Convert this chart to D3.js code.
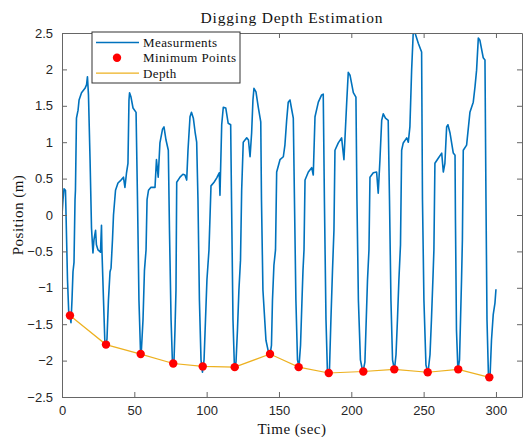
<!DOCTYPE html>
<html lang="en">
<head>
<meta charset="UTF-8">
<title>Digging Depth Estimation</title>
<script src="https://d3js.org/d3.v7.min.js"></script>
<style>
body { margin: 0; background: #fff; }
.tick text { font-family: "Liberation Sans", Arial, sans-serif; font-size: 13px; fill: #262626; }
.serif { font-family: "Liberation Serif", "Times New Roman", serif; fill: #111; }
</style>
</head>
<body>
<svg width="523" height="437"></svg>
<script>

var measT = [0, 0.7, 1.4, 2.4, 2.8, 3.8, 4.8, 5.5, 6.2, 6.9, 7.6, 8.3, 9.0, 9.3, 10.0, 11.1, 11.8, 13.5, 15.9, 17.0, 17.6, 18.3, 19.4, 20.4, 21.4, 22.1, 23.2, 23.8, 24.9, 26.6, 27.3, 27.6, 28.7, 29.7, 30.4,
  31.1, 32.1, 33.2, 33.9, 34.9, 35.6, 37.0, 38.7, 40.8, 42.5, 43.5, 44.6, 45.6, 46.3, 46.7, 47.7, 49.1, 51.2, 52.2, 53.2, 54.3, 54.9,
  56.0, 57.0, 58.1, 58.8, 59.8, 61.5, 64.3, 65.3, 66.5, 67.7, 69.5, 70.5, 71.9, 73.5, 74.3, 75.4, 76.4, 77.4,
  78.1, 78.8, 79.3, 81.6, 83.6, 85.0, 86.2, 87.1, 88.5, 89.5, 90.8, 92.0, 93.1, 94.0, 95.0, 96.1, 97.1, 98.2,
  99.2, 100.2, 101.6, 103.0, 105.1, 107.0, 108.7, 109.2, 110.4, 111.5, 113.2, 114.9, 116.6, 117.2, 118.2, 119.2, 120.3,
  121.3, 122.3, 123.4, 124.2, 125.3, 127.7, 128.9, 130.0, 131.1, 132.0, 132.7, 134.1, 135.7, 137.4, 137.9, 138.9, 141.0, 142.7, 143.8, 144.8,
  145.5, 146.5, 147.6, 148.4, 150.7, 153.0, 154.1, 155.3, 156.4, 157.6, 158.6, 159.9, 160.7, 161.7, 162.8, 163.8, 164.9,
  165.9, 166.6, 167.3, 168.0, 170.3, 172.6, 173.7, 174.9, 177.2, 179.5, 180.6, 181.4, 182.5, 183.5, 184.9,
  185.9, 187.0, 188.0, 188.7, 191.0, 193.3, 194.9, 196.8, 197.9, 199.1, 201.4, 203.2, 203.9, 204.9, 206.3, 208.0, 209.4,
  210.1, 211.2, 212.2, 212.9, 215.2, 217.5, 218.6, 219.8, 221.0, 222.1, 223.6, 225.5, 226.4, 227.4, 228.5, 229.8, 230.9,
  231.9, 232.9, 234.0, 234.8, 235.9, 238.3, 239.4, 240.5, 241.7, 242.8, 243.9, 246.3, 248.6, 249.2, 250.2, 251.6, 253.0, 254.4,
  255.4, 256.4, 257.1, 257.8, 260.1, 262.5, 263.6, 264.7, 265.9, 266.8, 268.2, 270.5, 271.7, 272.0, 272.7, 273.7, 274.8,
  275.5, 276.2, 276.8, 277.4, 279.7, 282.0, 284.3, 285.5, 286.6, 287.8, 288.9, 291.2, 292.4, 293.1, 293.8, 294.8, 295.8, 296.9, 298.1, 299.3, 300.0];

var measY = [0, 0.21, 0.36, 0.34, 0, -0.89, -1.41, -1.39, -1.48, -1.17, -0.78, -0.65, 0.21, 0.34, 1.33, 1.44, 1.58, 1.68, 1.74, 1.79, 1.90, 1.65, 0.76, -0.18, -0.52, -0.34, -0.21, -0.41, -0.48, -0.51, -0.14, -0.48, -1.17, -1.79, -1.79,
  -1.70, -1.17, -0.78, -0.73, -0.34, 0, 0.34, 0.44, 0.48, 0.52, 0.38, 0.58, 0.71, 1.58, 1.68, 1.62, 1.47, 1.41, 0.21, -1.17, -1.90, -1.85,
  -1.44, -0.76, -0.48, 0.21, 0.34, 0.38, 0.38, 0.76, 0.52, 0.99, 1.18, 1.21, 1.03, 0.89, -0.21, -1.44, -2.06, -2.02,
  -1.58, -1.03, 0.45, 0.52, 0.56, 0.55, 0.48, 0.89, 1.35, 1.41, 1.33, 1.14, 1.00, 0.21, -1.17, -1.99, -2.16, -1.99,
  -1.44, -0.89, -0.48, 0.40, 0.45, 0.51, 0.58, 0.27, 1.24, 1.48, 1.47, 1.26, 1.24, 0.21, -1.44, -2.09, -2.02,
  -1.58, -1.03, -0.62, 0.34, 1.00, 1.06, 1.03, 0.80, 1.13, 1.58, 1.74, 1.69, 1.48, 1.28, 0.21, -1.03, -1.72, -1.88, -1.92, -1.79,
  -1.17, -0.69, -0.48, 0.59, 0.76, 0.80, 0.96, 1.30, 1.55, 1.58, 1.47, 1.33, 0.21, -1.17, -1.99, -2.09, -1.79,
  -1.17, -0.76, -0.48, 0.48, 0.59, 0.65, 0.55, 1.35, 1.55, 1.65, 1.66, 0.21, -1.44, -2.16, -2.13,
  -1.44, -0.76, -0.21, 0.89, 0.99, 1.06, 0.76, 1.54, 1.96, 1.92, 1.68, 1.62, 0.21, -1.17, -1.99, -2.16, -2.02,
  -1.58, -0.89, -0.48, 0.52, 0.58, 0.59, 0.30, 0.76, 1.30, 1.39, 1.33, 1.30, 0.21, -1.17, -1.99, -2.13, -1.92,
  -1.44, -0.89, -0.41, 0.89, 0.99, 1.06, 1.00, 1.21, 1.99, 2.50, 2.51, 2.36, 2.24, 0.21, -1.17, -2.06, -2.17, -1.92,
  -1.44, -0.89, -0.48, 0.71, 0.78, 0.85, 0.59, 0.71, 1.21, 1.24, 1.13, 0.85, 0.82, -0.07, -1.58, -2.13, -1.99,
  -1.44, -0.89, -0.34, 0.89, 0.96, 1.41, 1.55, 1.76, 1.99, 2.43, 2.40, 2.16, 2.13, 0.21, -1.44, -2.20, -2.27, -1.72, -1.37, -1.21, -1.02];

// detected minimum points (also the depth line)
var minT = [5.5, 30.4, 54.4, 76.9, 97.3, 119.4, 143.8, 163.6, 184.4, 208.3, 229.7, 252.8, 273.9, 295.4];
var minY = [-1.38, -1.78, -1.91, -2.04, -2.08, -2.09, -1.91, -2.09, -2.17, -2.15, -2.12, -2.16, -2.12, -2.23];

var xTicks = [0, 50, 100, 150, 200, 250, 300];
var yTicks = [-2.5, -2, -1.5, -1, -0.5, 0, 0.5, 1, 1.5, 2, 2.5];

var svg = d3.select("svg");
var plot = {left: 62, right: 522, top: 33, bottom: 397};

var x = d3.scaleLinear().domain([0, 318]).range([plot.left, plot.right]);
var y = d3.scaleLinear().domain([-2.5, 2.5]).range([plot.bottom, plot.top]);

var meas = measT.map(function(t, i) { return [t, measY[i]]; });
var mins = minT.map(function(t, i) { return [t, minY[i]]; });

svg.append("clipPath").attr("id", "clip")
  .append("rect")
  .attr("x", plot.left).attr("y", plot.top)
  .attr("width", plot.right - plot.left).attr("height", plot.bottom - plot.top);

var line = d3.line().x(function(d) { return x(d[0]); }).y(function(d) { return y(d[1]); });

svg.append("path")
  .datum(meas)
  .attr("clip-path", "url(#clip)")
  .attr("d", line)
  .attr("fill", "none")
  .attr("stroke", "#0072BD")
  .attr("stroke-width", 1.6)
  .attr("stroke-linejoin", "round");

svg.append("path")
  .datum(mins)
  .attr("d", line)
  .attr("fill", "none")
  .attr("stroke", "#EDB120")
  .attr("stroke-width", 1.2);

svg.selectAll(".minpt")
  .data(mins)
  .enter()
  .append("circle")
  .attr("class", "minpt")
  .attr("cx", function(d) { return x(d[0]); })
  .attr("cy", function(d) { return y(d[1]); })
  .attr("r", 4.2)
  .attr("fill", "#FF0000");

// axes, box on, ticks inside
var axisColor = "#666";
function styleAxis(g) {
  g.select(".domain").attr("stroke", axisColor);
  g.selectAll(".tick line").attr("stroke", axisColor);
}

svg.append("g")
  .attr("transform", "translate(0," + plot.bottom + ")")
  .call(d3.axisBottom(x).tickValues(xTicks).tickSizeInner(-5).tickSizeOuter(0).tickPadding(9))
  .call(styleAxis);

svg.append("g")
  .attr("transform", "translate(0," + plot.top + ")")
  .call(d3.axisTop(x).tickValues(xTicks).tickSizeInner(-5).tickSizeOuter(0).tickFormat(""))
  .call(styleAxis);

svg.append("g")
  .attr("transform", "translate(" + plot.left + ",0)")
  .call(d3.axisLeft(y).tickValues(yTicks).tickSizeInner(-5).tickSizeOuter(0).tickPadding(9).tickFormat(d3.format("")))
  .call(styleAxis);

svg.append("g")
  .attr("transform", "translate(" + plot.right + ",0)")
  .call(d3.axisRight(y).tickValues(yTicks).tickSizeInner(-5).tickSizeOuter(0).tickFormat(""))
  .call(styleAxis);

// titles
svg.append("text").attr("class", "serif")
  .attr("x", (plot.left + plot.right) / 2).attr("y", 23)
  .attr("text-anchor", "middle").attr("font-size", 15.5)
  .attr("letter-spacing", 0.8)
  .text("Digging Depth Estimation");

svg.append("text").attr("class", "serif")
  .attr("x", (plot.left + plot.right) / 2).attr("y", 434)
  .attr("text-anchor", "middle").attr("font-size", 15)
  .attr("letter-spacing", 0.5)
  .text("Time (sec)");

svg.append("text").attr("class", "serif")
  .attr("transform", "translate(23," + ((plot.top + plot.bottom) / 2) + ") rotate(-90)")
  .attr("text-anchor", "middle").attr("font-size", 15)
  .attr("letter-spacing", 0.5)
  .text("Position (m)");

// legend
var legend = svg.append("g").attr("transform", "translate(92,32)");
legend.append("rect")
  .attr("width", 148).attr("height", 51)
  .attr("fill", "#fff").attr("stroke", "#333").attr("stroke-width", 1);

var legendItems = ["Measurments", "Minimum Points", "Depth"];
legendItems.forEach(function(name, i) {
  var cy = 10.5 + i * 15.3;
  if (i === 1) {
    legend.append("circle").attr("cx", 25).attr("cy", cy).attr("r", 4.2).attr("fill", "#FF0000");
  } else {
    legend.append("line")
      .attr("x1", 4).attr("x2", 47).attr("y1", cy).attr("y2", cy)
      .attr("stroke", i === 0 ? "#0072BD" : "#EDB120")
      .attr("stroke-width", i === 0 ? 1.5 : 1.2);
  }
  legend.append("text").attr("class", "serif")
    .attr("x", 51).attr("y", cy + 4.5)
    .attr("font-size", 13)
    .attr("letter-spacing", 0.4)
    .text(name);
});

</script>
</body>
</html>
